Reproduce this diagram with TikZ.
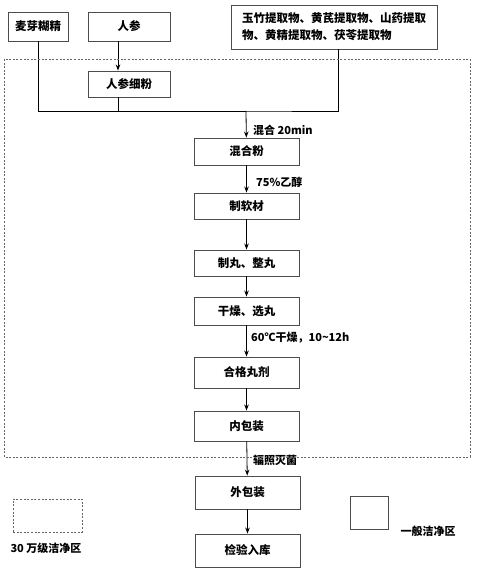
\documentclass[tikz,border=0pt]{standalone}
\usepackage{fontspec}
\setmainfont{Noto Sans CJK SC}
\usetikzlibrary{positioning,arrows.meta}
\tikzset{
  box/.style={draw=black!70,line width=.9pt,minimum width=105pt,minimum height=28pt,inner sep=2pt,
    font=\bfseries\fontsize{11.5}{17}\selectfont},
  note/.style={anchor=west,inner sep=0pt,font=\bfseries\fontsize{11}{13}\selectfont},
  flow/.style={line width=.8pt,-{Stealth[length=6pt,width=4.5pt]}},
  wire/.style={line width=.8pt},
  zone/.style={draw=black!60,line width=.8pt,dash pattern=on 2pt off 1.6pt}
}
\begin{document}
\begin{tikzpicture}[x=1pt,y=-1pt]
\useasboundingbox (0,0) rectangle (478,572);
% raw materials
\node[box,minimum width=60pt,minimum height=29pt] (maiya) at (38,26.5) {麦芽糊精};
\node[box,minimum width=82pt,minimum height=29pt] (renshen) at (129,26.5) {人参};
\node[box,minimum width=206pt,minimum height=44pt,align=left] (tiqu) at (334,27)
  {玉竹提取物、黄芪提取物、山药提取\\物、黄精提取物、茯苓提取物};
\node[box,minimum width=82pt,minimum height=26pt] (xifen) at (129,84) {人参细粉};
\coordinate (hub) at (246,111);
% main line
\node[box,minimum height=27pt] (hunhe) at (246.5,151.5) {混合粉};
\node[box,minimum height=26pt] (ruancai) at (246.5,206) {制软材};
\node[box,minimum height=26pt] (zhiwan) at (246.5,263) {制丸、整丸};
\node[box] (xuanwan) at (246.5,311) {干燥、选丸};
\node[box,minimum height=31pt] (hege) at (246.5,372.5) {合格丸剂};
\node[box,minimum height=30pt] (neibao) at (246.5,426) {内包装};
\node[box,minimum height=33pt] (waibao) at (247.5,492.5) {外包装};
\node[box,minimum height=33pt] (jianyan) at (247.5,550.5) {检验入库};
% connectors
\draw[flow] ([xshift=-11pt]renshen.south) -- ([xshift=-11pt]xifen.north);
\draw[wire] (maiya.south) |- (hub) -| ([xshift=4pt]tiqu.south);
\draw[wire] ([xshift=-11pt]xifen.south) |- (hub);
\draw[flow] (hub) -- (hunhe);
\foreach \a/\b in {hunhe/ruancai,ruancai/zhiwan,zhiwan/xuanwan,xuanwan/hege,hege/neibao,neibao/waibao,waibao/jianyan}
  \draw[flow] (\a) -- (\b);
\node[note] (t1) at (253,130) {混合 20min};
\node[note] (t2) at (256,182) {75\%乙醇};
\node[note] (t3) at (251,338) {60℃干燥，10\textasciitilde12h};
\node[note] (t4) at (253,460) {辐照灭菌};
% clean zones
\draw[zone] (4,59) rectangle (470,457);
\node[zone,minimum width=69pt,minimum height=33pt] (leg1) at (47.5,515.5) {};
\node[note,anchor=center] (leg1t) at (46,548) {30 万级洁净区};
\node[draw=black!70,line width=.9pt,minimum width=38pt,minimum height=33pt] (leg2) at (369,512.5) {};
\node[note,anchor=center] (leg2t) at (428,531) {一般洁净区};
\end{tikzpicture}
\end{document}
